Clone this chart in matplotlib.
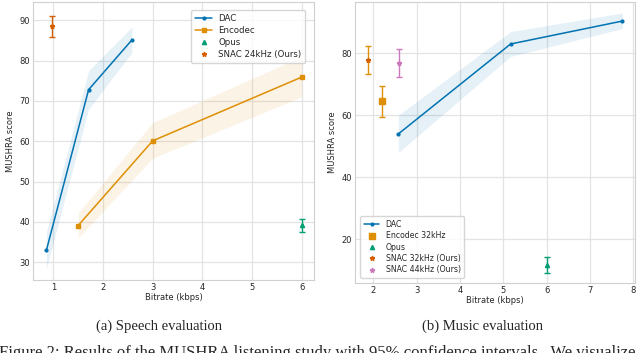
import matplotlib
matplotlib.use("Agg")
import matplotlib.pyplot as plt
import seaborn as sns

sns.set_theme(style="whitegrid")
plt.rcParams['font.family'] = ['DejaVu Sans']

# Speech evaluation data
sp_dac_x = [0.86, 1.71, 2.58]
sp_dac_y = [33.0, 72.8, 85.1]
sp_dac_lo = [28.5, 68.0, 82.0]
sp_dac_hi = [37.5, 77.5, 88.3]
sp_enc_x = [1.5, 3.0, 6.0]
sp_enc_y = [39.1, 60.1, 75.9]
sp_enc_lo = [36.0, 55.8, 71.0]
sp_enc_hi = [42.2, 64.6, 81.0]
sp_opus_x = [6.0]
sp_opus_y = [39.2]
sp_opus_err = [1.6]
sp_snac_x = [0.98]
sp_snac_y = [88.5]
sp_snac_err = [2.6]

# Music evaluation data
mu_dac_x = [2.58, 5.17, 7.75]
mu_dac_y = [54.0, 83.0, 90.4]
mu_dac_lo = [48.0, 79.0, 88.0]
mu_dac_hi = [60.0, 87.0, 93.0]
mu_enc_x = [2.2]
mu_enc_y = [64.5]
mu_enc_err = [5.0]
mu_opus_x = [6.0]
mu_opus_y = [11.8]
mu_opus_err = [2.5]
mu_snac32_x = [1.88]
mu_snac32_y = [77.8]
mu_snac32_err = [4.4]
mu_snac44_x = [2.59]
mu_snac44_y = [76.8]
mu_snac44_err = [4.6]

C_BLUE = '#0173b2'
C_ORANGE = '#de8f05'
C_GREEN = '#029e73'
C_RED = '#d55e00'
C_PINK = '#cc78bc'

fig = plt.figure(figsize=(6.4, 3.53), dpi=100)
ax1 = fig.add_axes([0.0516, 0.207, 0.439, 0.788])
ax2 = fig.add_axes([0.5547, 0.198, 0.4375, 0.796])

fs = 6
for ax in (ax1, ax2):
    ax.tick_params(labelsize=fs, pad=2, length=0)
    for s in ax.spines.values():
        s.set_color('#d0d0d0')
        s.set_linewidth(0.8)
    ax.grid(color='#e3e3e3', linewidth=0.9)
    ax.set_xlabel('Bitrate (kbps)', fontsize=fs, labelpad=1)
    ax.set_ylabel('MUSHRA score', fontsize=fs, labelpad=3)

# Speech
ax1.fill_between(sp_dac_x, sp_dac_lo, sp_dac_hi, color=C_BLUE, alpha=0.1, linewidth=0)
ax1.plot(sp_dac_x, sp_dac_y, color=C_BLUE, marker='.', markersize=4, linewidth=1.1, label='DAC')
ax1.fill_between(sp_enc_x, sp_enc_lo, sp_enc_hi, color=C_ORANGE, alpha=0.1, linewidth=0)
ax1.plot(sp_enc_x, sp_enc_y, color=C_ORANGE, marker='s', markersize=3, linewidth=1.1, label='Encodec')
ax1.errorbar(sp_opus_x, sp_opus_y, yerr=sp_opus_err, color=C_GREEN, marker='^', markersize=3,
             linestyle='none', capsize=2, elinewidth=1, label='Opus')
ax1.errorbar(sp_snac_x, sp_snac_y, yerr=sp_snac_err, color=C_RED, ecolor=C_RED, marker='*', markersize=3.5,
             linestyle='none', capsize=2, elinewidth=1, label='SNAC 24kHz (Ours)')
ax1.set_xlim(0.59, 6.25)
ax1.set_ylim(25.6, 94.6)
ax1.set_xticks([1, 2, 3, 4, 5, 6])
ax1.set_yticks([30, 40, 50, 60, 70, 80, 90])
h, l = ax1.get_legend_handles_labels()
hh = [x[0] if isinstance(x, matplotlib.container.ErrorbarContainer) else x for x in h]
ax1.legend(hh, l, loc='upper right', fontsize=6.2, frameon=True, borderpad=0.45,
           labelspacing=0.35, handlelength=2.0, handletextpad=0.7, bbox_to_anchor=(0.985, 0.985))

# Music
ax2.fill_between(mu_dac_x, mu_dac_lo, mu_dac_hi, color=C_BLUE, alpha=0.1, linewidth=0)
ax2.plot(mu_dac_x, mu_dac_y, color=C_BLUE, marker='.', markersize=4, linewidth=1.1, label='DAC')
ax2.errorbar(mu_enc_x, mu_enc_y, yerr=mu_enc_err, color=C_ORANGE, marker='s', markersize=5,
             linestyle='none', capsize=2, elinewidth=1, label='Encodec 32kHz')
ax2.errorbar(mu_opus_x, mu_opus_y, yerr=mu_opus_err, color=C_GREEN, marker='^', markersize=3,
             linestyle='none', capsize=2, elinewidth=1, label='Opus')
ax2.errorbar(mu_snac32_x, mu_snac32_y, yerr=mu_snac32_err, color=C_RED, ecolor=C_ORANGE, marker='*', markersize=3.5,
             linestyle='none', capsize=2, elinewidth=1, label='SNAC 32kHz (Ours)')
ax2.errorbar(mu_snac44_x, mu_snac44_y, yerr=mu_snac44_err, color=C_PINK, marker='*', markersize=3.5,
             linestyle='none', capsize=2, elinewidth=1, label='SNAC 44kHz (Ours)')
ax2.set_xlim(1.58, 8.04)
ax2.set_ylim(5.9, 96.5)
ax2.set_xticks([2, 3, 4, 5, 6, 7, 8])
ax2.set_yticks([20, 40, 60, 80])
h, l = ax2.get_legend_handles_labels()
hh = [x[0] if isinstance(x, matplotlib.container.ErrorbarContainer) else x for x in h]
ax2.legend(hh, l, loc='lower left', fontsize=5.6, frameon=True, borderpad=0.45,
           labelspacing=0.3, handlelength=2.0, handletextpad=0.8, bbox_to_anchor=(0.005, 0.005))

serif = ['Liberation Serif', 'DejaVu Serif']
fig.text(159 / 640, 1 - 326 / 353, '(a) Speech evaluation', ha='center', va='center', fontsize=10.5, family=serif)
fig.text(483 / 640, 1 - 326 / 353, '(b) Music evaluation', ha='center', va='center', fontsize=10.5, family=serif)
fig.text(-0.002, 1 - 345 / 353, 'Figure 2: Results of the MUSHRA listening study with 95% confidence intervals.  We visualize',
         ha='left', va='top', fontsize=12, family=serif)

fig.savefig('out.png', dpi=100)
